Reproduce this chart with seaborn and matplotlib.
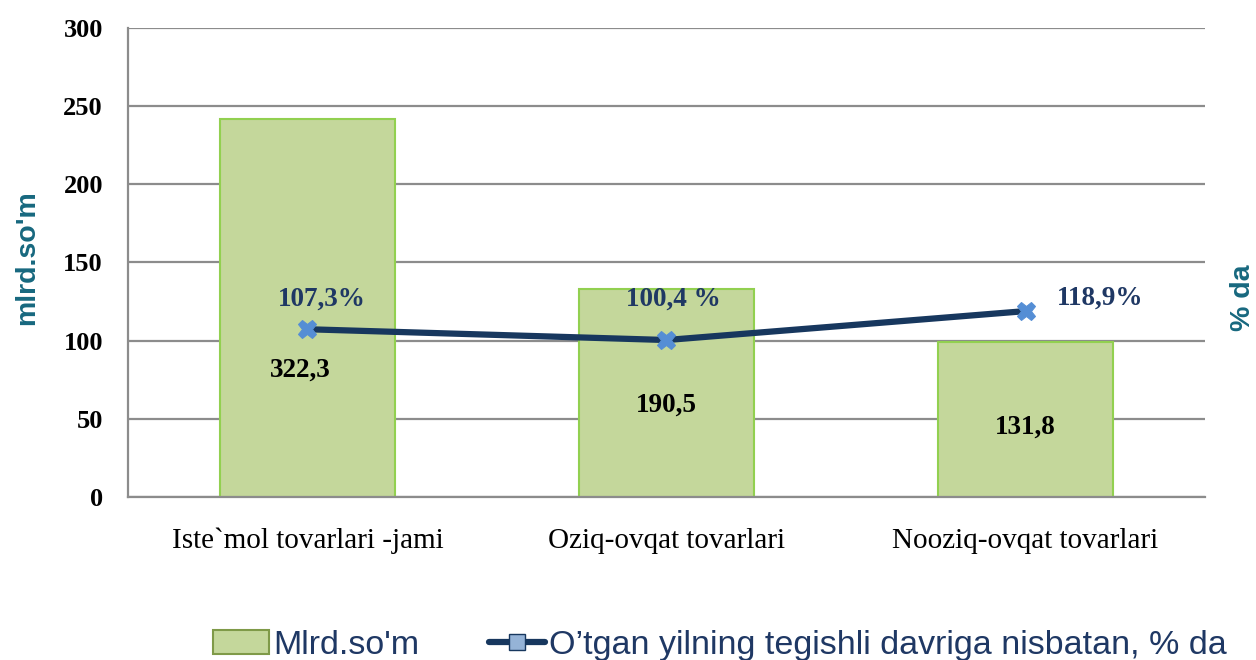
import numpy as np
import matplotlib
matplotlib.use("Agg")
import matplotlib.pyplot as plt
import seaborn as sns
from matplotlib.patches import Patch
from matplotlib.lines import Line2D

# ---- data ---------------------------------------------------------------
categories = ["Iste`mol tovarlari -jami", "Oziq-ovqat tovarlari", "Nooziq-ovqat tovarlari"]
bar_heights = [242, 133, 99]
bar_labels = ["322,3", "190,5", "131,8"]
pct_values = [107.3, 100.4, 118.9]
pct_labels = ["107,3%", "100,4 %", "118,9%"]
y_ticks = [0, 50, 100, 150, 200, 250, 300]

# ---- style --------------------------------------------------------------
sns.set_theme(style="white", rc={"xtick.color": "black", "ytick.color": "black",
                                 "text.color": "black", "axes.labelcolor": "black"})
plt.rcParams["font.family"] = ["Liberation Serif", "DejaVu Serif"]

BAR_FACE = "#C4D79B"
BAR_EDGE = "#92D050"
LINE_COL = "#17375E"
MARK_COL = "#558ED5"
GRID_COL = "#8C8C8C"
TEAL = "#17687F"

fig = plt.figure(figsize=(12.56, 6.6), dpi=100)
ax = fig.add_axes([0.1019, 0.247, 0.8575, 0.7106])

sns.barplot(x=np.arange(len(categories)), y=bar_heights, ax=ax,
            color=BAR_FACE, edgecolor=BAR_EDGE, linewidth=1.5,
            width=0.49, saturation=1)

ax.set_xlim(-0.5, 2.5)
ax.set_ylim(0, 300)
ax.set_yticks(y_ticks)
ax.set_yticklabels([str(t) for t in y_ticks], fontsize=19, fontweight="bold", color="black")
ax.set_xticks(range(len(categories)))
ax.set_xticklabels(categories, fontsize=21, color="black")
ax.tick_params(axis="y", length=0, pad=18)
ax.tick_params(axis="x", length=0, pad=22)
ax.yaxis.grid(True, color=GRID_COL, linewidth=1.6)
ax.set_axisbelow(True)
for s in ["top", "right"]:
    ax.spines[s].set_visible(False)
for s in ["left", "bottom"]:
    ax.spines[s].set_color(GRID_COL)
    ax.spines[s].set_linewidth(1.6)
ax.set_ylabel("mlrd.so'm", fontsize=20.5, fontweight="bold", color=TEAL,
              family="Liberation Sans")
ax.yaxis.set_label_coords(-0.0817, 0.51)
ax.set_xlabel("")

# bar value labels (manually placed inside the bars, as in the source)
label_frac = [0.335, 0.44, 0.45]
label_dx = [-0.02, 0.0, 0.0]
for i, (h, lab) in enumerate(zip(bar_heights, bar_labels)):
    ax.text(i + label_dx[i], h * label_frac[i], lab, ha="center", va="center",
            fontsize=19.5, fontweight="bold", color="black")

# ---- secondary axis with the percent line -------------------------------
ax2 = ax.twinx()
sns.lineplot(x=np.arange(len(categories)), y=pct_values, ax=ax2,
             color=LINE_COL, linewidth=4.5, marker="X", markersize=13,
             markerfacecolor=MARK_COL, markeredgecolor=MARK_COL, zorder=5)
ax2.set_ylim(0, 300)
ax2.set_yticks([])
for s in ax2.spines.values():
    s.set_visible(False)
ax2.set_ylabel("% da", fontsize=20.5, fontweight="bold", color=TEAL,
               family="Liberation Sans")
ax2.yaxis.set_label_coords(1.023, 0.424)

pct_offsets = [(0.04, 19), (0.02, 26), (0.207, 8.4)]
for i, (v, lab) in enumerate(zip(pct_values, pct_labels)):
    dx, dy = pct_offsets[i]
    ax2.text(i + dx, v + dy, lab, ha="center", va="center",
             fontsize=19.5, fontweight="bold", color="#1F3864")

# ---- legend -------------------------------------------------------------
handles = [
    Patch(facecolor=BAR_FACE, edgecolor="#7F9A48", linewidth=1.5),
    Line2D([0], [0], color=LINE_COL, linewidth=4.5, marker="s", markersize=12,
           markerfacecolor="#95B3D7", markeredgecolor=LINE_COL),
]
fig.legend(handles, ["Mlrd.so'm", "O\u2019tgan yilning tegishli davriga nisbatan, % da"],
           loc="center", bbox_to_anchor=(0.573, 0.022), ncol=2, frameon=False,
           prop={"family": "Liberation Sans", "size": 24.5},
           labelcolor="#1F3864", handlelength=1.65, handletextpad=0.12,
           columnspacing=2.05, borderpad=0, borderaxespad=0)

plt.savefig("out.png", dpi=100)
